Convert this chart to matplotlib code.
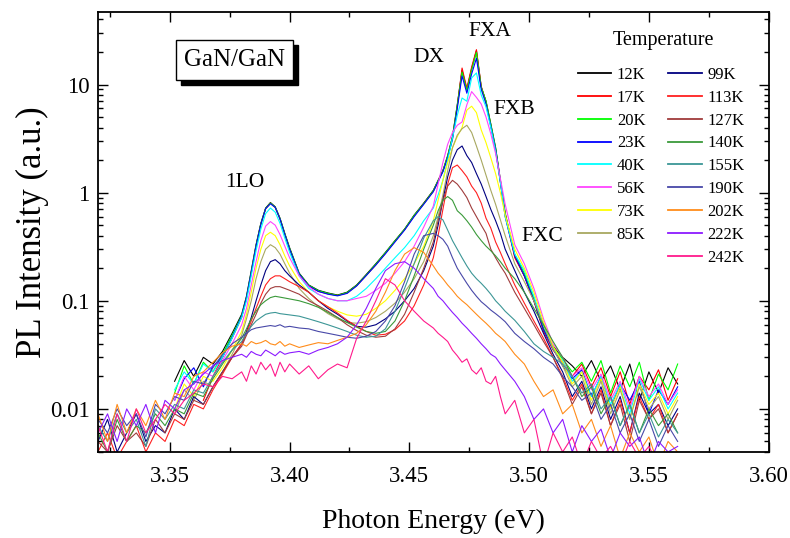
import numpy as np
import matplotlib
matplotlib.use('Agg')
import matplotlib.pyplot as plt
from matplotlib.lines import Line2D
from matplotlib.patches import Rectangle
from matplotlib.ticker import MultipleLocator, LogLocator, NullFormatter, FixedLocator, FixedFormatter

plt.rcParams['font.family'] = ['Liberation Serif', 'DejaVu Serif']

nan = np.nan

# photon energy grid (eV)
energy = [3.320, 3.324, 3.328, 3.332, 3.336, 3.340, 3.344, 3.348, 3.352, 3.356, 3.360, 3.364, 3.368, 3.372, 3.376,
          3.380, 3.382, 3.384, 3.386, 3.388, 3.390, 3.392, 3.394, 3.396, 3.398, 3.400,
          3.404, 3.408, 3.412, 3.416, 3.420, 3.424, 3.428, 3.432, 3.436, 3.440, 3.444, 3.448, 3.452, 3.456,
          3.460, 3.462, 3.464, 3.466, 3.468, 3.470, 3.472, 3.474, 3.476, 3.478, 3.480, 3.482, 3.484, 3.486, 3.488, 3.490,
          3.494, 3.498, 3.502, 3.506, 3.510, 3.514, 3.518, 3.522, 3.526, 3.530, 3.534, 3.538, 3.542, 3.546, 3.550, 3.554, 3.558, 3.562]

temps = ['12K', '17K', '20K', '23K', '40K', '56K', '73K', '85K',
         '99K', '113K', '127K', '140K', '155K', '190K', '202K', '222K', '242K']

colors = ['#000000', '#ff0000', '#00ff00', '#0000ff', '#00ffff', '#ff44ff', '#ffff00', '#a8a860',
          '#000080', '#ff2020', '#a03c3c', '#3a9a3a', '#3c9696', '#4848a8', '#ff8c1a', '#8c1aff', '#ff1a8c']

pl_12K = [nan, nan, nan, nan, nan, nan, nan, nan, 0.018, 0.028, 0.02, 0.03, 0.026, 0.034, 0.05,
          0.075, 0.11, 0.19, 0.33, 0.52, 0.72, 0.81, 0.74, 0.58, 0.42, 0.31,
          0.18, 0.14, 0.125, 0.118, 0.113, 0.12, 0.14, 0.175, 0.22, 0.28, 0.36, 0.46, 0.62, 0.8,
          1.05, 1.3, 1.6, 2.2, 3.3, 6.5, 13.5, 9.0, 14.0, 20.5, 9.5, 7.0, 4.3, 2.6, 1.3, 0.65,
          0.26, 0.17, 0.1, 0.055, 0.038, 0.03, 0.025, 0.02, 0.028, 0.018, 0.025, 0.015, 0.026, 0.012, 0.022, 0.014, 0.024, 0.017]
pl_17K = [nan, nan, nan, nan, nan, nan, nan, nan, nan, nan, nan, 0.012, 0.02, 0.03, 0.045,
          0.07, 0.105, 0.18, 0.32, 0.51, 0.71, 0.8, 0.73, 0.57, 0.41, 0.3,
          0.175, 0.138, 0.122, 0.116, 0.112, 0.118, 0.138, 0.172, 0.215, 0.275, 0.355, 0.455, 0.61, 0.79,
          1.03, 1.28, 1.58, 2.15, 3.2, 6.3, 14.2, 9.2, 14.5, 21.0, 9.6, 6.9, 4.2, 2.5, 1.25, 0.62,
          0.25, 0.17, 0.1, 0.052, 0.035, 0.027, 0.02, 0.026, 0.016, 0.024, 0.013, 0.022, 0.011, 0.02, 0.015, 0.023, 0.012, 0.019]
pl_20K = [nan, nan, nan, nan, nan, nan, nan, nan, 0.014, 0.025, 0.017, 0.027, 0.022, 0.032, 0.048,
          0.073, 0.108, 0.185, 0.325, 0.515, 0.715, 0.8, 0.735, 0.575, 0.415, 0.305,
          0.178, 0.139, 0.124, 0.117, 0.112, 0.119, 0.139, 0.173, 0.218, 0.278, 0.358, 0.458, 0.615, 0.79,
          1.04, 1.29, 1.59, 2.18, 3.25, 6.4, 13.0, 8.8, 13.6, 19.8, 9.4, 7.0, 4.3, 2.6, 1.3, 0.63,
          0.27, 0.18, 0.105, 0.055, 0.037, 0.029, 0.022, 0.027, 0.018, 0.028, 0.014, 0.025, 0.016, 0.027, 0.012, 0.021, 0.015, 0.026]
pl_23K = [nan, nan, nan, nan, nan, nan, nan, nan, 0.012, 0.019, 0.024, 0.016, 0.025, 0.03, 0.046,
          0.072, 0.107, 0.183, 0.32, 0.51, 0.71, 0.79, 0.73, 0.57, 0.41, 0.3,
          0.176, 0.137, 0.122, 0.115, 0.111, 0.117, 0.137, 0.171, 0.214, 0.272, 0.35, 0.45, 0.6, 0.78,
          1.02, 1.26, 1.56, 2.1, 3.1, 6.0, 12.0, 8.3, 12.5, 17.5, 9.0, 6.6, 4.1, 2.5, 1.25, 0.6,
          0.26, 0.17, 0.1, 0.054, 0.036, 0.025, 0.019, 0.023, 0.013, 0.02, 0.01, 0.017, 0.012, 0.018, 0.009, 0.015, 0.011, 0.016]
pl_40K = [nan, nan, nan, nan, nan, nan, nan, nan, 0.015, 0.022, 0.017, 0.026, 0.022, 0.03, 0.045,
          0.07, 0.1, 0.17, 0.29, 0.46, 0.64, 0.72, 0.66, 0.52, 0.38, 0.28,
          0.17, 0.13, 0.115, 0.105, 0.1, 0.1, 0.11, 0.13, 0.16, 0.2, 0.25, 0.31, 0.4, 0.55,
          0.72, 0.95, 1.3, 2.0, 3.2, 5.2, 7.5, 7.0, 11.5, 12.8, 8.0, 6.2, 4.0, 2.4, 1.25, 0.6,
          0.27, 0.19, 0.11, 0.06, 0.036, 0.028, 0.018, 0.022, 0.013, 0.02, 0.011, 0.017, 0.009, 0.019, 0.012, 0.016, 0.01, 0.014]
pl_56K = [nan, nan, nan, nan, nan, nan, nan, nan, 0.012, 0.02, 0.015, 0.022, 0.02, 0.028, 0.04,
          0.06, 0.085, 0.14, 0.23, 0.36, 0.49, 0.54, 0.5, 0.41, 0.32, 0.25,
          0.17, 0.135, 0.115, 0.105, 0.1, 0.1, 0.105, 0.11, 0.125, 0.145, 0.18, 0.23, 0.32, 0.48,
          0.75, 1.2, 1.9, 2.8, 3.6, 4.2, 4.5, 6.5, 8.6, 7.6, 6.6, 5.0, 3.5, 2.3, 1.35, 0.78,
          0.33, 0.22, 0.13, 0.068, 0.04, 0.03, 0.02, 0.024, 0.015, 0.021, 0.012, 0.018, 0.01, 0.02, 0.013, 0.017, 0.011, 0.015]
pl_73K = [nan, nan, nan, nan, nan, nan, nan, nan, 0.01, 0.017, 0.013, 0.02, 0.018, 0.024, 0.035,
          0.052, 0.075, 0.12, 0.2, 0.3, 0.4, 0.43, 0.4, 0.33, 0.26, 0.21,
          0.15, 0.12, 0.1, 0.088, 0.08, 0.074, 0.072, 0.075, 0.085, 0.1, 0.125, 0.16, 0.22, 0.32,
          0.55, 0.85, 1.3, 1.9, 2.6, 3.3, 4.0, 5.8, 6.3, 5.5, 3.8, 2.9, 2.1, 1.5, 1.0, 0.62,
          0.3, 0.2, 0.12, 0.064, 0.038, 0.027, 0.017, 0.022, 0.012, 0.019, 0.01, 0.016, 0.008, 0.017, 0.011, 0.014, 0.009, 0.013]
pl_85K = [nan, nan, nan, nan, nan, nan, nan, nan, 0.009, 0.015, 0.012, 0.018, 0.016, 0.022, 0.032,
          0.048, 0.068, 0.1, 0.16, 0.23, 0.3, 0.33, 0.31, 0.27, 0.22, 0.18,
          0.13, 0.105, 0.088, 0.076, 0.068, 0.063, 0.062, 0.064, 0.07, 0.08, 0.095, 0.12, 0.16, 0.23,
          0.4, 0.6, 0.95, 1.6, 2.6, 3.4, 3.9, 4.2, 3.6, 2.7, 2.0, 1.45, 1.05, 0.78, 0.56, 0.4,
          0.22, 0.15, 0.1, 0.06, 0.036, 0.025, 0.016, 0.02, 0.011, 0.018, 0.009, 0.015, 0.008, 0.016, 0.01, 0.013, 0.008, 0.012]
pl_99K = [0.005, 0.008, 0.004, 0.006, 0.009, 0.005, 0.007, 0.006, 0.01, 0.008, 0.013, 0.011, 0.016, 0.022, 0.03,
          0.04, 0.052, 0.07, 0.1, 0.14, 0.19, 0.23, 0.24, 0.22, 0.19, 0.17,
          0.14, 0.12, 0.1, 0.085, 0.075, 0.065, 0.058, 0.057, 0.06, 0.068, 0.08, 0.1, 0.13, 0.19,
          0.32, 0.5, 0.85, 1.4, 2.0, 2.5, 2.7, 2.2, 1.9, 1.5, 1.2, 0.92, 0.7, 0.55, 0.42, 0.3,
          0.19, 0.12, 0.08, 0.05, 0.032, 0.022, 0.013, 0.018, 0.01, 0.016, 0.008, 0.013, 0.006, 0.014, 0.009, 0.011, 0.007, 0.01]
pl_113K = [0.004, 0.006, 0.0035, 0.005, 0.007, 0.004, 0.006, 0.005, 0.008, 0.007, 0.011, 0.01, 0.015, 0.021, 0.03,
           0.04, 0.05, 0.065, 0.085, 0.11, 0.14, 0.16, 0.17, 0.17, 0.16, 0.15,
           0.135, 0.12, 0.1, 0.088, 0.077, 0.066, 0.058, 0.052, 0.048, 0.049, 0.054, 0.065, 0.09, 0.14,
           0.25, 0.4, 0.7, 1.2, 1.7, 1.8, 1.6, 1.4, 1.15, 1.0, 0.8, 0.58, 0.47, 0.35, 0.28, 0.22,
           0.14, 0.095, 0.065, 0.045, 0.03, 0.02, 0.012, 0.017, 0.009, 0.015, 0.007, 0.012, 0.006, 0.013, 0.008, 0.011, 0.006, 0.009]
pl_127K = [0.005, 0.004, 0.007, 0.005, 0.006, 0.0045, 0.008, 0.006, 0.009, 0.008, 0.012, 0.011, 0.016, 0.022, 0.03,
           0.038, 0.048, 0.06, 0.075, 0.095, 0.115, 0.13, 0.135, 0.135, 0.13, 0.125,
           0.115, 0.1, 0.09, 0.08, 0.07, 0.06, 0.053, 0.048, 0.046, 0.047, 0.055, 0.075, 0.12, 0.2,
           0.35, 0.55, 0.85, 1.15, 1.3, 1.2, 1.05, 0.9, 0.72, 0.6, 0.5, 0.42, 0.3, 0.25, 0.21, 0.18,
           0.12, 0.085, 0.06, 0.042, 0.03, 0.019, 0.011, 0.016, 0.009, 0.014, 0.007, 0.011, 0.005, 0.012, 0.008, 0.01, 0.006, 0.009]
pl_140K = [0.006, 0.004, 0.008, 0.005, 0.007, 0.006, 0.009, 0.007, 0.01, 0.009, 0.014, 0.013, 0.019, 0.026, 0.035,
           0.045, 0.055, 0.068, 0.08, 0.092, 0.1, 0.107, 0.11, 0.108, 0.106, 0.104,
           0.1, 0.094, 0.087, 0.078, 0.07, 0.063, 0.057, 0.052, 0.05, 0.052, 0.065, 0.1, 0.17, 0.3,
           0.5, 0.68, 0.85, 0.92, 0.85, 0.68, 0.62, 0.55, 0.48, 0.41, 0.36, 0.32, 0.29, 0.26, 0.23, 0.2,
           0.16, 0.12, 0.085, 0.06, 0.042, 0.03, 0.02, 0.013, 0.016, 0.009, 0.013, 0.007, 0.011, 0.006, 0.01, 0.007, 0.009, 0.006]
pl_155K = [0.007, 0.005, 0.009, 0.006, 0.008, 0.0045, 0.01, 0.008, 0.011, 0.01, 0.015, 0.014, 0.02, 0.027, 0.035,
           0.042, 0.05, 0.058, 0.065, 0.07, 0.075, 0.077, 0.078, 0.076, 0.075, 0.074,
           0.072, 0.068, 0.064, 0.06, 0.056, 0.052, 0.048, 0.046, 0.047, 0.055, 0.08, 0.13, 0.22, 0.38,
           0.55, 0.6, 0.56, 0.45, 0.36, 0.3, 0.25, 0.21, 0.18, 0.16, 0.145, 0.13, 0.115, 0.1, 0.09, 0.08,
           0.066, 0.052, 0.04, 0.034, 0.03, 0.026, 0.02, 0.014, 0.017, 0.01, 0.013, 0.007, 0.011, 0.006, 0.009, 0.0055, 0.008, 0.006]
pl_190K = [0.008, 0.006, 0.01, 0.007, 0.009, 0.0055, 0.011, 0.009, 0.013, 0.012, 0.018, 0.017, 0.024, 0.032, 0.04,
           0.046, 0.05, 0.054, 0.056, 0.057, 0.058, 0.059, 0.058, 0.06, 0.057, 0.058,
           0.056, 0.055, 0.052, 0.05, 0.048, 0.046, 0.045, 0.047, 0.052, 0.065, 0.09, 0.15, 0.27, 0.4,
           0.42, 0.4, 0.37, 0.32, 0.25, 0.2, 0.17, 0.145, 0.125, 0.11, 0.098, 0.09, 0.082, 0.076, 0.07, 0.064,
           0.05, 0.042, 0.036, 0.03, 0.026, 0.02, 0.016, 0.012, 0.014, 0.008, 0.011, 0.006, 0.009, 0.005, 0.008, 0.0045, 0.007, 0.005]
pl_202K = [0.009, 0.005, 0.011, 0.006, 0.01, 0.007, 0.012, 0.008, 0.014, 0.013, 0.02, 0.022, 0.027, 0.033, 0.038,
           0.04, 0.038, 0.042, 0.04, 0.041, 0.043, 0.04, 0.039, 0.042, 0.038, 0.04,
           0.037, 0.039, 0.041, 0.04, 0.043, 0.046, 0.05, 0.06, 0.08, 0.12, 0.19, 0.27, 0.31, 0.28,
           0.21, 0.18, 0.16, 0.14, 0.125, 0.11, 0.1, 0.092, 0.083, 0.075, 0.068, 0.062, 0.056, 0.05, 0.046, 0.042,
           0.032, 0.026, 0.018, 0.013, 0.015, 0.009, 0.011, 0.006, 0.008, 0.0045, 0.007, 0.0035, 0.006, 0.004, 0.0055, 0.003, 0.005, 0.004]
pl_222K = [0.006, 0.009, 0.005, 0.01, 0.007, 0.011, 0.006, 0.012, 0.01, 0.015, 0.017, 0.021, 0.025, 0.028, 0.03,
           0.032, 0.03, 0.034, 0.032, 0.031, 0.035, 0.033, 0.031, 0.034, 0.032, 0.033,
           0.034, 0.032, 0.035, 0.037, 0.04, 0.046, 0.06, 0.085, 0.13, 0.19, 0.22, 0.23, 0.2, 0.16,
           0.13, 0.11, 0.1, 0.088, 0.078, 0.07, 0.062, 0.056, 0.05, 0.045, 0.04, 0.036, 0.032, 0.03, 0.026, 0.023,
           0.018, 0.013, 0.008, 0.01, 0.006, 0.008, 0.004, 0.007, 0.005, 0.0065, 0.0035, 0.006, 0.0045, 0.0055, 0.003, 0.005, 0.004, 0.0045]
pl_242K = [0.007, 0.004, 0.009, 0.005, 0.01, 0.006, 0.008, 0.011, 0.009, 0.012, 0.014, 0.017, 0.016, 0.02, 0.019,
           0.022, 0.018, 0.025, 0.021, 0.027, 0.023, 0.026, 0.02, 0.027, 0.022, 0.026,
           0.021, 0.025, 0.019, 0.023, 0.026, 0.024, 0.045, 0.065, 0.1, 0.16, 0.14, 0.1, 0.08, 0.065,
           0.056, 0.05, 0.046, 0.042, 0.035, 0.031, 0.027, 0.029, 0.023, 0.021, 0.024, 0.018, 0.017, 0.02, 0.013, 0.009,
           0.012, 0.006, 0.008, 0.003, 0.006, 0.004, 0.0055, 0.003, 0.005, 0.0035, 0.0045, 0.003, 0.005, 0.0035, 0.0045, 0.003, 0.004, 0.0035]

spectra = [pl_12K, pl_17K, pl_20K, pl_23K, pl_40K, pl_56K, pl_73K, pl_85K,
           pl_99K, pl_113K, pl_127K, pl_140K, pl_155K, pl_190K, pl_202K, pl_222K, pl_242K]

peak_labels = ['1LO', 'DX', 'FXA', 'FXB', 'FXC']
peak_x = [3.3813, 3.4583, 3.4838, 3.4938, 3.5054]
peak_y = [1.24, 17.8, 31.0, 5.9, 0.39]

fig = plt.figure(figsize=(7.9, 5.38), dpi=100)
ax = fig.add_axes([0.124, 0.16, 0.849, 0.818])

lines = []
for t, c, s in zip(temps, colors, spectra):
    ln, = ax.plot(energy, s, color=c, lw=0.8, label=t)
    lines.append(ln)

ax.set_yscale('log')
ax.set_xlim(3.32, 3.60)
ax.set_ylim(0.004, 47)

ax.xaxis.set_major_locator(MultipleLocator(0.05))
ax.xaxis.set_minor_locator(MultipleLocator(0.025))
ax.xaxis.set_major_formatter(matplotlib.ticker.FormatStrFormatter('%.2f'))
ax.yaxis.set_major_locator(FixedLocator([0.01, 0.1, 1, 10]))
ax.yaxis.set_major_formatter(FixedFormatter(['0.01', '0.1', '1', '10']))
ax.yaxis.set_minor_locator(LogLocator(base=10, subs=np.arange(2, 10), numticks=20))
ax.yaxis.set_minor_formatter(NullFormatter())
ax.tick_params(which='both', direction='in', top=True, right=True, labelsize=16.5, width=1.0)
ax.tick_params(which='major', length=7)
ax.tick_params(which='minor', length=3.5)
ax.tick_params(axis='x', which='major', pad=10)
ax.tick_params(axis='y', which='major', pad=6)
for sp in ax.spines.values():
    sp.set_linewidth(1.3)

ax.set_xlabel('Photon Energy (eV)', fontsize=20, labelpad=16)
ax.set_ylabel('PL Intensity (a.u.)', fontsize=25)
ax.yaxis.set_label_coords(-0.073, 0.5)

for lab, x, y in zip(peak_labels, peak_x, peak_y):
    ax.text(x, y, lab, fontsize=15.5, ha='center', va='center')

# sample box with drop shadow
ax.add_patch(Rectangle((0.124, 0.834), 0.174, 0.091, transform=ax.transAxes,
                       facecolor='black', edgecolor='black', zorder=5))
ax.add_patch(Rectangle((0.117, 0.845), 0.174, 0.091, transform=ax.transAxes,
                       facecolor='white', edgecolor='black', lw=1.0, zorder=6))
ax.text(0.204, 0.89, 'GaN/GaN', transform=ax.transAxes, fontsize=18,
        ha='center', va='center', zorder=7)

ax.text(0.843, 0.934, 'Temperature', transform=ax.transAxes, fontsize=14.5,
        ha='center', va='center')

blank = Line2D([], [], color='none')
handles = lines[:8] + [blank] + lines[8:]
labels = temps[:8] + [''] + temps[8:]
leg = ax.legend(handles, labels, ncol=2, loc='upper left', bbox_to_anchor=(0.715, 0.875),
                frameon=False, fontsize=12, borderpad=0, borderaxespad=0,
                handlelength=2.0, handletextpad=0.36, columnspacing=1.35, labelspacing=0.41)
for h in leg.legend_handles:
    h.set_linewidth(1.3)

fig.savefig('out.png', dpi=100)
